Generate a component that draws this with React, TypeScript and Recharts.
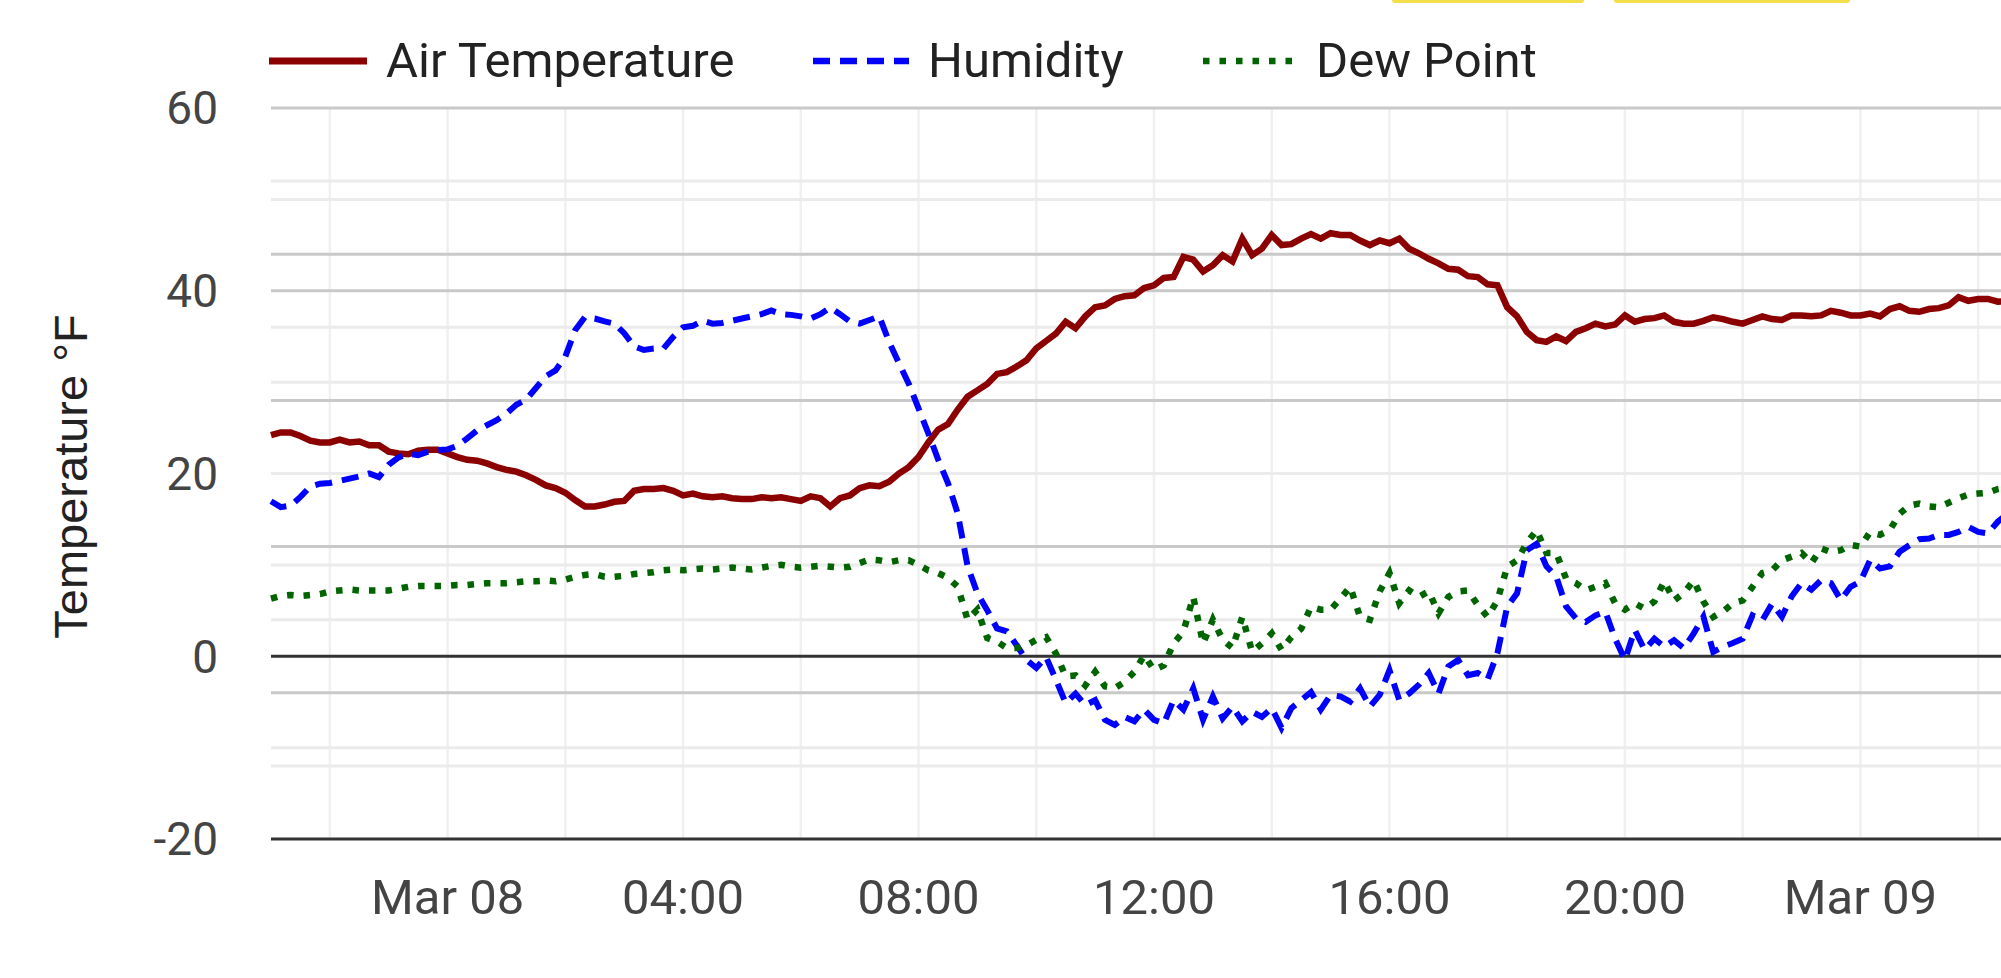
import { LineChart, Line, XAxis, YAxis, CartesianGrid } from 'recharts';

// readings every 10 minutes, starting Mar 07 21:00 (hours counted from Mar 08 00:00)
const startHour = -3;
const stepHours = 1 / 6;

const airTemperature = [
    24.2, 24.5, 24.5, 24.1, 23.6, 23.4, 23.4, 23.7, 23.4, 23.5,
    23.1, 23.1, 22.4, 22.2, 22.1, 22.5, 22.6, 22.6, 22.2, 21.8,
    21.5, 21.4, 21.1, 20.7, 20.4, 20.2, 19.8, 19.3, 18.7, 18.4,
    17.9, 17.1, 16.4, 16.4, 16.6, 16.9, 17.0, 18.1, 18.3, 18.3,
    18.4, 18.1, 17.6, 17.8, 17.5, 17.4, 17.5, 17.3, 17.2, 17.2,
    17.4, 17.3, 17.4, 17.2, 17.0, 17.5, 17.3, 16.4, 17.3, 17.6,
    18.4, 18.7, 18.6, 19.1, 20.0, 20.7, 21.8, 23.4, 24.8, 25.4,
    27.0, 28.4, 29.1, 29.8, 30.9, 31.1, 31.7, 32.4, 33.7, 34.5,
    35.3, 36.6, 35.9, 37.2, 38.2, 38.4, 39.1, 39.4, 39.5, 40.3,
    40.6, 41.4, 41.5, 43.7, 43.4, 42.1, 42.8, 43.9, 43.2, 45.7,
    43.9, 44.6, 46.1, 45.0, 45.1, 45.7, 46.2, 45.7, 46.3, 46.1,
    46.1, 45.5, 45.0, 45.5, 45.2, 45.7, 44.6, 44.1, 43.5, 43.0,
    42.4, 42.3, 41.6, 41.5, 40.7, 40.6, 38.2, 37.2, 35.5, 34.6,
    34.4, 35.0, 34.5, 35.5, 35.9, 36.4, 36.1, 36.3, 37.3, 36.6,
    36.9, 37.0, 37.3, 36.6, 36.4, 36.4, 36.7, 37.1, 36.9, 36.6,
    36.4, 36.8, 37.2, 36.9, 36.8, 37.3, 37.3, 37.2, 37.3, 37.8,
    37.6, 37.3, 37.3, 37.5, 37.2, 38.0, 38.3, 37.8, 37.7, 38.0,
    38.1, 38.4, 39.3, 38.9, 39.1, 39.1, 38.8, 38.9
];

// relative humidity, % (own 0-100 scale)
const humidity = [
    46.2, 45.4, 45.6, 46.8, 48.2, 48.6, 48.7, 49.0, 49.3, 49.6,
    50.0, 49.5, 51.2, 52.2, 52.7, 52.5, 53.0, 53.2, 53.3, 53.8,
    54.8, 55.9, 56.6, 57.3, 58.2, 59.4, 60.1, 61.7, 63.3, 64.1,
    66.0, 69.6, 71.4, 71.2, 70.8, 70.5, 69.2, 67.4, 66.9, 67.1,
    67.1, 68.7, 70.0, 70.2, 70.9, 70.5, 70.6, 70.9, 71.2, 71.5,
    71.8, 72.3, 71.8, 71.7, 71.5, 71.2, 71.8, 72.7, 71.8, 70.8,
    70.5, 71.0, 71.5, 68.0, 65.1, 62.3, 58.9, 55.5, 51.9, 48.7,
    44.5, 37.3, 33.6, 31.3, 28.8, 28.4, 26.5, 24.5, 23.4, 24.9,
    21.8, 18.6, 19.9, 18.3, 19.0, 16.3, 15.6, 16.7, 16.1, 17.7,
    16.3, 15.8, 19.0, 17.7, 20.6, 16.3, 19.5, 16.5, 18.1, 16.1,
    17.4, 16.7, 17.9, 15.2, 17.9, 19.0, 20.1, 17.7, 19.7, 19.5,
    18.8, 20.6, 18.1, 19.7, 23.1, 19.0, 19.9, 21.1, 22.7, 19.9,
    23.6, 24.5, 22.4, 22.7, 21.8, 25.4, 31.8, 33.6, 39.5, 40.4,
    37.3, 35.9, 31.8, 30.2, 29.7, 30.6, 31.1, 27.4, 24.5, 28.6,
    25.9, 27.4, 26.3, 27.2, 26.1, 28.1, 30.4, 25.6, 26.3, 26.8,
    27.4, 30.6, 29.9, 32.2, 30.4, 33.2, 35.0, 34.1, 35.4, 35.0,
    32.7, 34.5, 35.2, 38.2, 37.0, 37.3, 39.3, 40.2, 41.0, 41.1,
    41.6, 41.6, 42.0, 42.7, 42.0, 41.8, 43.4, 44.5
];

const dewPoint = [
    6.3, 6.6, 6.7, 6.6, 6.7, 6.8, 7.1, 7.2, 7.3, 7.2,
    7.2, 7.2, 7.2, 7.4, 7.6, 7.7, 7.7, 7.7, 7.7, 7.8,
    7.8, 7.9, 8.0, 8.0, 8.0, 8.1, 8.2, 8.2, 8.3, 8.2,
    8.4, 8.7, 8.9, 9.0, 8.7, 8.7, 8.8, 9.0, 9.1, 9.2,
    9.4, 9.5, 9.4, 9.5, 9.6, 9.5, 9.6, 9.7, 9.6, 9.5,
    9.7, 9.9, 10.0, 9.8, 9.7, 9.8, 9.9, 9.8, 9.7, 9.8,
    10.2, 10.6, 10.5, 10.3, 10.5, 10.5, 10.0, 9.4, 9.1, 8.6,
    7.6, 4.0, 5.1, 2.0, 1.6, 0.9, 0.9, 1.2, 1.8, 2.1,
    0.3, -2.2, -2.1, -3.2, -1.7, -3.3, -3.5, -2.8, -1.7, 0.1,
    -1.5, -1.0, 1.4, 2.7, 6.5, 1.4, 4.0, 1.8, 0.9, 4.3,
    0.5, 1.4, 2.5, 0.7, 2.1, 3.0, 5.4, 5.1, 5.1, 6.3,
    7.6, 4.3, 4.0, 7.1, 9.1, 5.8, 7.2, 6.5, 7.1, 4.7,
    6.5, 7.1, 7.2, 5.6, 4.3, 6.1, 9.8, 10.5, 12.4, 13.8,
    11.3, 11.3, 8.5, 8.0, 7.2, 7.6, 8.0, 5.8, 5.1, 5.8,
    5.2, 6.0, 8.2, 6.1, 6.9, 8.3, 6.0, 4.3, 4.9, 5.8,
    6.1, 7.6, 9.1, 9.4, 10.5, 10.9, 11.3, 10.2, 11.8, 11.4,
    11.6, 12.2, 12.0, 13.6, 13.3, 13.8, 15.6, 16.5, 16.7, 16.4,
    16.3, 16.8, 17.3, 17.7, 17.8, 17.9, 18.3, 18.5
];

const timeTicks = [0, 4, 8, 12, 16, 20, 24];
const timeGrid = [-2, 0, 2, 4, 6, 8, 10, 12, 14, 16, 18, 20, 22, 24, 26];
const tempTicks = [-20, 0, 20, 40, 60];
const tempMajorGrid = [60, 40];
const tempMinorGrid = [50, 30, 10, -10];
const humMajorGrid = [80, 60, 40, 20];
const humMinorGrid = [90, 70, 50, 30, 10];

const data = airTemperature.map((temp, i) => ({
    t: startHour + i * stepHours,
    temp,
    hum: humidity[i],
    dew: dewPoint[i]
}));

const formatTime = (h: number) => {
    if (h === 0) return 'Mar 08';
    if (h === 24) return 'Mar 09';
    return `${String(h % 24).padStart(2, '0')}:00`;
};

const YLabel = ({ viewBox }: any) => {
    const cy = viewBox ? viewBox.y + viewBox.height / 2 + 3 : 476;
    return (
        <text
            x={87}
            y={cy}
            transform={`rotate(-90 87 ${cy})`}
            textAnchor="middle"
            fontSize={47}
            fontFamily="'Liberation Sans', Arial, sans-serif"
            fill="#222"
        >
            Temperature °F
        </text>
    );
};

const legendItems = [
    { name: 'Air Temperature', color: '#8b0000', dash: undefined, x: 269, w: 98 },
    { name: 'Humidity', color: '#0000ff', dash: '17 10', x: 813, w: 96 },
    { name: 'Dew Point', color: '#006400', dash: '6.5 10', x: 1203, w: 94 }
];

const App = () => {
    return (
        <div
            style={{
                position: 'fixed',
                left: 0,
                top: 0,
                width: 2001,
                height: 978,
                overflow: 'hidden',
                background: '#fff'
            }}
        >
            <div style={{ position: 'absolute', top: 0, left: 1392, width: 192, height: 3, background: '#f2df4a', borderRadius: '0 0 4px 4px' }} />
            <div style={{ position: 'absolute', top: 0, left: 1614, width: 236, height: 3, background: '#f2df4a', borderRadius: '0 0 4px 4px' }} />

            <svg width={2001} height={110} style={{ position: 'absolute', left: 0, top: 0 }}>
                {legendItems.map((item) => (
                    <g key={item.name}>
                        <line
                            x1={item.x}
                            x2={item.x + item.w}
                            y1={61}
                            y2={61}
                            stroke={item.color}
                            strokeWidth={item.dash ? 6.5 : 7}
                            strokeDasharray={item.dash}
                        />
                        <text x={item.x + item.w + 19} y={77} fontSize={49} fontFamily="Roboto" fill="#222">
                            {item.name}
                        </text>
                    </g>
                ))}
            </svg>

            <div style={{ position: 'absolute', left: 0, top: 0 }}>
                <LineChart width={2037} height={978} data={data} margin={{ top: 108, right: 0, bottom: 0, left: 0 }}>
                    <CartesianGrid yAxisId="temp" horizontal={false} verticalValues={timeGrid} stroke="#f0f0f0" strokeWidth={2.5} />
                    <CartesianGrid yAxisId="temp" vertical={false} horizontalValues={tempMinorGrid} stroke="#ebebeb" strokeWidth={3} />
                    <CartesianGrid yAxisId="temp" vertical={false} horizontalValues={tempMajorGrid} stroke="#c9c9c9" strokeWidth={3} />
                    <CartesianGrid yAxisId="hum" vertical={false} horizontalValues={humMajorGrid} stroke="#c9c9c9" strokeWidth={3} />
                    <CartesianGrid yAxisId="hum" vertical={false} horizontalValues={humMinorGrid} stroke="#ebebeb" strokeWidth={3} />
                    <CartesianGrid yAxisId="temp" vertical={false} horizontalValues={[0]} stroke="#333" strokeWidth={3} />
                    <XAxis
                        dataKey="t"
                        type="number"
                        domain={[-3, 27]}
                        ticks={timeTicks}
                        tickFormatter={formatTime}
                        height={139}
                        tickLine={false}
                        tickSize={0}
                        tickMargin={40}
                        axisLine={{ stroke: '#333', strokeWidth: 3 }}
                        tick={{ fontSize: 49, fill: '#444', fontFamily: 'Roboto' }}
                    />
                    <YAxis
                        yAxisId="temp"
                        type="number"
                        domain={[-20, 60]}
                        ticks={tempTicks}
                        width={271}
                        axisLine={false}
                        tickLine={false}
                        tickSize={0}
                        tickMargin={53}
                        tick={{ fontSize: 46, fill: '#444', fontFamily: 'Roboto' }}
                        label={<YLabel />}
                    />
                    <YAxis yAxisId="hum" orientation="right" type="number" domain={[0, 100]} hide />
                    <Line
                        yAxisId="temp"
                        type="linear"
                        dataKey="temp"
                        name="Air Temperature"
                        stroke="#8b0000"
                        strokeWidth={6.5}
                        dot={false}
                        isAnimationActive={false}
                    />
                    <Line
                        yAxisId="hum"
                        type="linear"
                        dataKey="hum"
                        name="Humidity"
                        stroke="#0000ff"
                        strokeWidth={6}
                        strokeDasharray="17 10"
                        dot={false}
                        isAnimationActive={false}
                    />
                    <Line
                        yAxisId="temp"
                        type="linear"
                        dataKey="dew"
                        name="Dew Point"
                        stroke="#006400"
                        strokeWidth={6.5}
                        strokeDasharray="6.5 10"
                        dot={false}
                        isAnimationActive={false}
                    />
                </LineChart>
            </div>
        </div>
    );
};

export default App;
